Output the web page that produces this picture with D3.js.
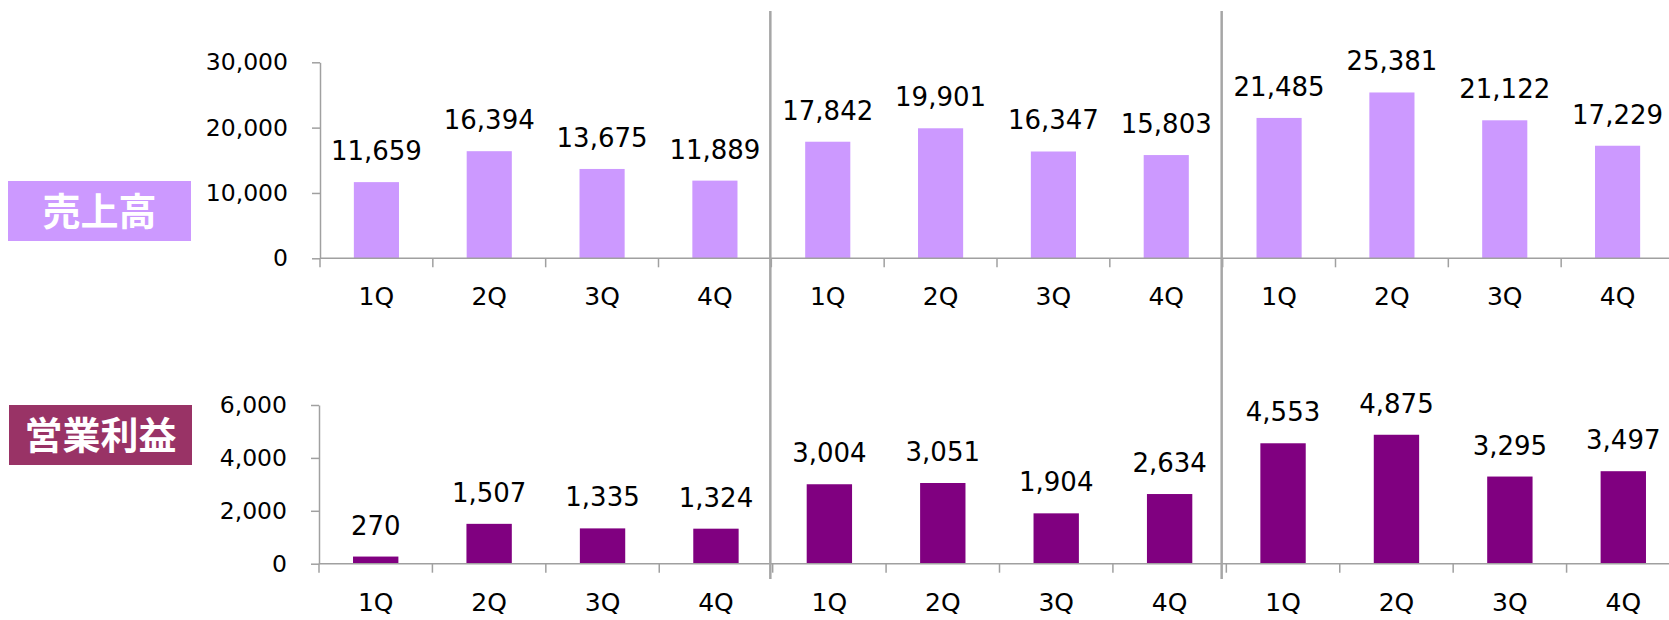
<!DOCTYPE html>
<html>
<head>
<meta charset="utf-8">
<script src="https://cdn.jsdelivr.net/npm/d3@7"></script>
<style>
  body { margin: 0; background: #fff; }
  svg { display: block; }
  text { font-family: "DejaVu Sans", Verdana, sans-serif; fill: #000; }
</style>
</head>
<body>
<svg id="chart" width="1669" height="620"></svg>
<script>
// data
var groups = ["FY1", "FY2", "FY3"];
var quarters = ["1Q", "2Q", "3Q", "4Q"];
var sales = [11659, 16394, 13675, 11889, 17842, 19901, 16347, 15803, 21485, 25381, 21122, 17229];
var profit = [270, 1507, 1335, 1324, 3004, 3051, 1904, 2634, 4553, 4875, 3295, 3497];
var salesTicks = [0, 10000, 20000, 30000];
var profitTicks = [0, 2000, 4000, 6000];

// one key per bar: group + quarter
var keys = [];
groups.forEach(function (g) {
  quarters.forEach(function (q) { keys.push(g + "-" + q); });
});

var svg = d3.select("#chart");
var fmt = d3.format(",");
var axisColor = "#a0a0a0";

function drawPanel(opt) {
  var x = d3.scaleBand().domain(keys).range(opt.xRange)
    .paddingInner(0.6).paddingOuter(0.3);
  var y = d3.scaleLinear().domain([0, opt.max]).range(opt.yRange);
  var g = svg.append("g");
  var base = y(0);

  // bars
  g.selectAll("rect.bar")
    .data(opt.values)
    .enter().append("rect")
    .attr("class", "bar")
    .attr("x", function (d, i) { return x(keys[i]); })
    .attr("width", x.bandwidth())
    .attr("y", function (d) { return y(d); })
    .attr("height", function (d) { return base - y(d); })
    .attr("fill", opt.color);

  // value labels
  g.selectAll("text.val")
    .data(opt.values)
    .enter().append("text")
    .attr("class", "val")
    .attr("x", function (d, i) { return x(keys[i]) + x.bandwidth() / 2; })
    .attr("y", function (d) { return y(d) - 22; })
    .attr("text-anchor", "middle")
    .style("font-size", "26px")
    .text(function (d) { return fmt(d); });

  // y axis
  var yAxis = g.append("g")
    .attr("transform", "translate(" + opt.xRange[0] + ",0)")
    .call(d3.axisLeft(y).tickValues(opt.ticks).tickFormat(fmt)
      .tickSize(8).tickSizeOuter(0).tickPadding(24));
  yAxis.selectAll("path, line").attr("stroke", axisColor).attr("stroke-width", 1.5);
  yAxis.selectAll("text").style("font-size", "23.5px").attr("fill", "#000")
    .style("font-family", "'DejaVu Sans', Verdana, sans-serif");

  // x axis line
  g.append("line")
    .attr("x1", opt.xRange[0]).attr("x2", 1669)
    .attr("y1", base).attr("y2", base)
    .attr("stroke", axisColor).attr("stroke-width", 1.5);

  // boundary ticks between categories
  var step = x.step();
  var start = x(keys[0]) - step * 0.3;
  g.selectAll("line.bt")
    .data(d3.range(keys.length))
    .enter().append("line")
    .attr("class", "bt")
    .attr("x1", function (i) { return start + i * step; })
    .attr("x2", function (i) { return start + i * step; })
    .attr("y1", base).attr("y2", base + 9)
    .attr("stroke", axisColor).attr("stroke-width", 1.5);

  // quarter labels
  g.selectAll("text.q")
    .data(keys)
    .enter().append("text")
    .attr("class", "q")
    .attr("x", function (k) { return x(k) + x.bandwidth() / 2; })
    .attr("y", base + 47)
    .attr("text-anchor", "middle")
    .style("font-size", "25px")
    .text(function (k) { return k.split("-")[1]; });

  // title box on the left
  g.append("rect")
    .attr("x", opt.box[0]).attr("y", opt.box[1])
    .attr("width", opt.box[2]).attr("height", opt.box[3])
    .attr("fill", opt.boxColor);
  g.append("text")
    .attr("x", opt.box[0] + opt.box[2] / 2)
    .attr("y", opt.box[1] + opt.box[3] / 2)
    .attr("dy", "0.36em")
    .attr("text-anchor", "middle")
    .style("font-family", "'Noto Sans CJK JP', sans-serif")
    .style("font-weight", "bold")
    .style("font-size", "38px")
    .style("fill", "#fff")
    .text(opt.title);

  return x;
}

var xTop = drawPanel({
  values: sales, max: 30000, ticks: salesTicks,
  xRange: [320, 1674], yRange: [258.3, 62.3],
  color: "#cc99ff", title: "売上高",
  box: [8, 181, 183, 60], boxColor: "#cc99ff"
});

drawPanel({
  values: profit, max: 6000, ticks: profitTicks,
  xRange: [319, 1680], yRange: [563.7, 405],
  color: "#800080", title: "営業利益",
  box: [9, 405, 183, 60], boxColor: "#993366"
});

// separators between years
svg.selectAll("line.sep")
  .data(groups.slice(1))
  .enter().append("line")
  .attr("class", "sep")
  .attr("x1", function (g) { return xTop(g + "-1Q") - xTop.step() * 0.3 - 1; })
  .attr("x2", function (g) { return xTop(g + "-1Q") - xTop.step() * 0.3 - 1; })
  .attr("y1", 11).attr("y2", 579)
  .attr("stroke", "#a6a6a6").attr("stroke-width", 2.5);
</script>
</body>
</html>
